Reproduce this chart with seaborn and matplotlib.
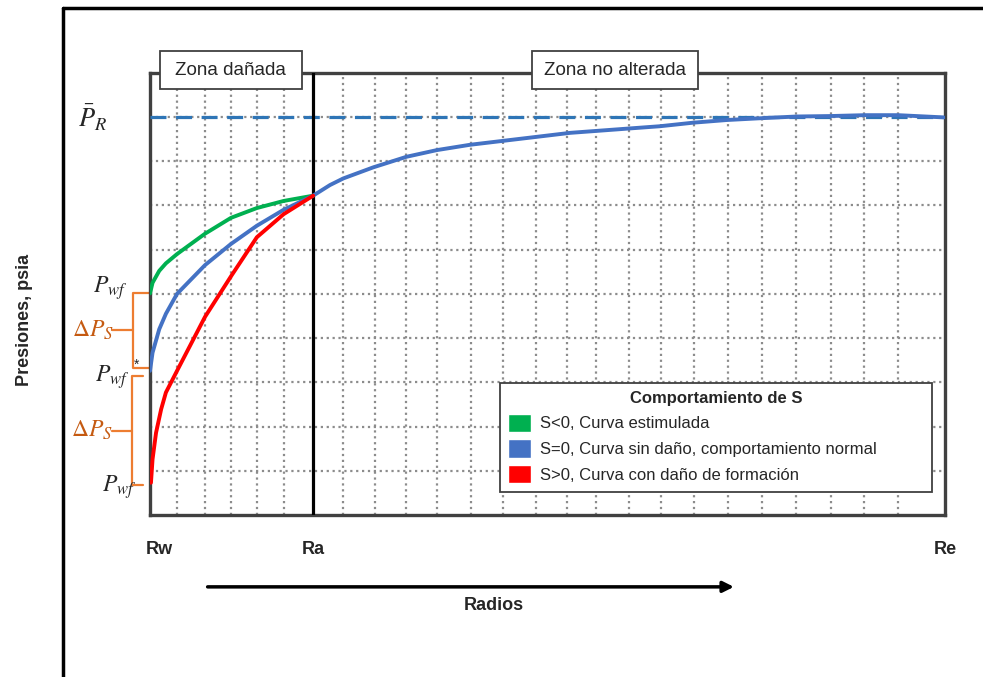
import numpy as np
import pandas as pd
import matplotlib
matplotlib.use('Agg')
import matplotlib.pyplot as plt
import seaborn as sns
from matplotlib.patches import Patch, Rectangle
from matplotlib.lines import Line2D
from matplotlib.transforms import ScaledTranslation

# radios (unidades de la cuadricula) y presiones
x_green = [0, 0.08, 0.29, 0.50, 0.85, 1.73, 2.55, 3.36, 4.20, 5.13]
p_green = [5.01, 5.25, 5.52, 5.69, 5.90, 6.36, 6.72, 6.94, 7.10, 7.22]

x_blue = [0, 0.08, 0.29, 0.50, 0.85, 1.73, 2.55, 3.36, 4.20, 5.13, 5.66, 6.08,
          7.02, 8.07, 9.02, 10.06, 11.11, 12.16, 13.21, 14.15, 15.09, 16.04,
          17.08, 18.13, 19.18, 20.34, 21.38, 22.48, 23.53, 24.95]
p_blue = [3.26, 3.67, 4.20, 4.55, 5.00, 5.65, 6.13, 6.54, 6.90, 7.22, 7.46, 7.61,
          7.86, 8.10, 8.25, 8.37, 8.46, 8.55, 8.64, 8.69, 8.74, 8.79,
          8.87, 8.93, 8.97, 9.01, 9.02, 9.04, 9.04, 8.99]

x_red = [0.03, 0.08, 0.19, 0.35, 0.50, 0.85, 1.73, 2.55, 3.36, 4.20, 5.13]
p_red = [0.73, 1.26, 1.86, 2.39, 2.77, 3.26, 4.48, 5.40, 6.28, 6.80, 7.22]

P_R = 9.0
r_w, r_a, r_e = 0, 5.14, 25
radius_labels = ['Rw', 'Ra', 'Re']
grid_x = [0.84, 1.72, 2.54, 3.37, 4.21, 6.08, 7.08, 8.05, 9.03, 10.08, 11.09,
          12.14, 13.10, 14.02, 15.07, 16.07, 17.12, 18.18, 19.25, 20.31, 21.42,
          22.46, 23.53]
grid_y = [1, 2, 3, 4, 5, 6, 7, 8, 9]

legend_labels = ['S<0, Curva estimulada',
                 'S=0, Curva sin daño, comportamiento normal',
                 'S>0, Curva con daño de formación']
colors = ['#00B050', '#4472C4', '#FF0000']

sns.set_style('white')
plt.rcParams['font.family'] = ['Liberation Sans', 'DejaVu Sans']
plt.rcParams['mathtext.fontset'] = 'stix'

fig = plt.figure(figsize=(9.83, 6.77), dpi=100)
ax = fig.add_axes([0.1526, 0.2393, 0.8087, 0.6533])

# cuadricula punteada
ax.set_xticks(grid_x, minor=True)
ax.set_yticks(grid_y)
ax.set_yticklabels([])
ax.grid(True, which='minor', axis='x', ls=':', lw=1.6, color='#8c8c8c')
ax.grid(True, which='major', axis='y', ls=':', lw=1.6, color='#8c8c8c')
ax.grid(False, which='major', axis='x')
ax.tick_params(which='both', length=0)

ax.axhline(P_R, color='#2E75B6', lw=2.3, dashes=(5, 3), zorder=3)
ax.axvline(r_a, color='black', lw=2.3, zorder=3)

sns.lineplot(x=x_green, y=p_green, color=colors[0], lw=2.8, ax=ax, zorder=4)
sns.lineplot(x=x_blue, y=p_blue, color=colors[1], lw=2.8, ax=ax, zorder=4)
sns.lineplot(x=x_red, y=p_red, color=colors[2], lw=2.8, ax=ax, zorder=4)

ax.set_xlim(r_w, r_e)
ax.set_ylim(0, 10)
for s in ax.spines.values():
    s.set_color('#404040')
    s.set_linewidth(2.4)

ax.set_xticks([r_w, r_a, r_e])
ax.set_xticklabels(radius_labels, fontweight='bold', fontsize=13)
ax.tick_params(axis='x', pad=19)
xl = ax.get_xticklabels()
xl[0].set_transform(xl[0].get_transform() + ScaledTranslation(9 / 100, 0, fig.dpi_scale_trans))

ax.set_xlabel('Radios', fontweight='bold', fontsize=13)
ax.xaxis.set_label_coords(0.433, -0.185)
ax.set_ylabel('Presiones, psia', fontweight='bold', fontsize=13)
ax.yaxis.set_label_coords(-0.147, 0.44)

ax.annotate('', xy=(0.738, -0.1625), xytext=(0.069, -0.1625), xycoords='axes fraction',
            arrowprops=dict(arrowstyle='-|>', lw=2.5, color='black', mutation_scale=16))

# cajas de zona
for x0, x1, txt in [(0.31, 4.78, 'Zona dañada'), (12.01, 17.23, 'Zona no alterada')]:
    ax.add_patch(Rectangle((x0, 9.63), x1 - x0, 0.86, facecolor='white',
                           edgecolor='#404040', lw=1.3, clip_on=False, zorder=6))
    ax.text((x0 + x1) / 2, 10.06, txt, ha='center', va='center', fontsize=13.5, zorder=7)

# etiquetas de presion a la izquierda
ax.text(-2.27, 8.97, r'$\bar{P}_R$', fontsize=19, ha='left', va='center')
ax.text(-1.80, 5.12, r'$P_{wf}$', fontsize=17, ha='left', va='center')
ax.text(-1.73, 3.12, r'$P_{wf}$', fontsize=17, ha='left', va='center')
ax.text(-0.42, 3.40, '*', fontsize=10, ha='center', va='center')
ax.text(-1.52, 0.62, r'$P_{wf}$', fontsize=17, ha='left', va='center')
ax.text(-2.45, 4.18, r'$\Delta P_S$', fontsize=17, ha='left', va='center', color='#C55A11')
ax.text(-2.48, 1.92, r'$\Delta P_S$', fontsize=17, ha='left', va='center', color='#C55A11')

brace_color = '#ED7D31'
for xv, xh, y0, y1, ym in [(-0.54, -0.03, 5.02, 3.32, 4.18), (-0.57, -0.22, 3.14, 0.68, 1.90)]:
    ax.plot([xh, xv, xv, xh], [y0, y0, y1, y1], color=brace_color, lw=1.6, clip_on=False)
    ax.plot([xv, -1.19], [ym, ym], color=brace_color, lw=1.6, clip_on=False)

handles = [Patch(facecolor=c, label=l) for c, l in zip(colors, legend_labels)]
leg = ax.legend(handles=handles, title='Comportamiento de S', loc='upper left',
                bbox_to_anchor=(0.440, 0.0361, 0.5443, 0.2626), mode='expand',
                borderaxespad=0, fancybox=False, edgecolor='#404040', framealpha=1,
                fontsize=12, title_fontproperties={'weight': 'bold', 'size': 12},
                handlelength=1.4, handleheight=1.3, labelspacing=0.45,
                handletextpad=0.5, borderpad=0.5)
leg.get_frame().set_linewidth(1.3)
leg.set_zorder(8)

# marco exterior
fig.add_artist(Line2D([63 / 983, 1], [1 - 8 / 677] * 2, color='black', lw=2.5))
fig.add_artist(Line2D([63 / 983] * 2, [0, 1 - 8 / 677], color='black', lw=2.5))

fig.savefig('out.png', dpi=100)
